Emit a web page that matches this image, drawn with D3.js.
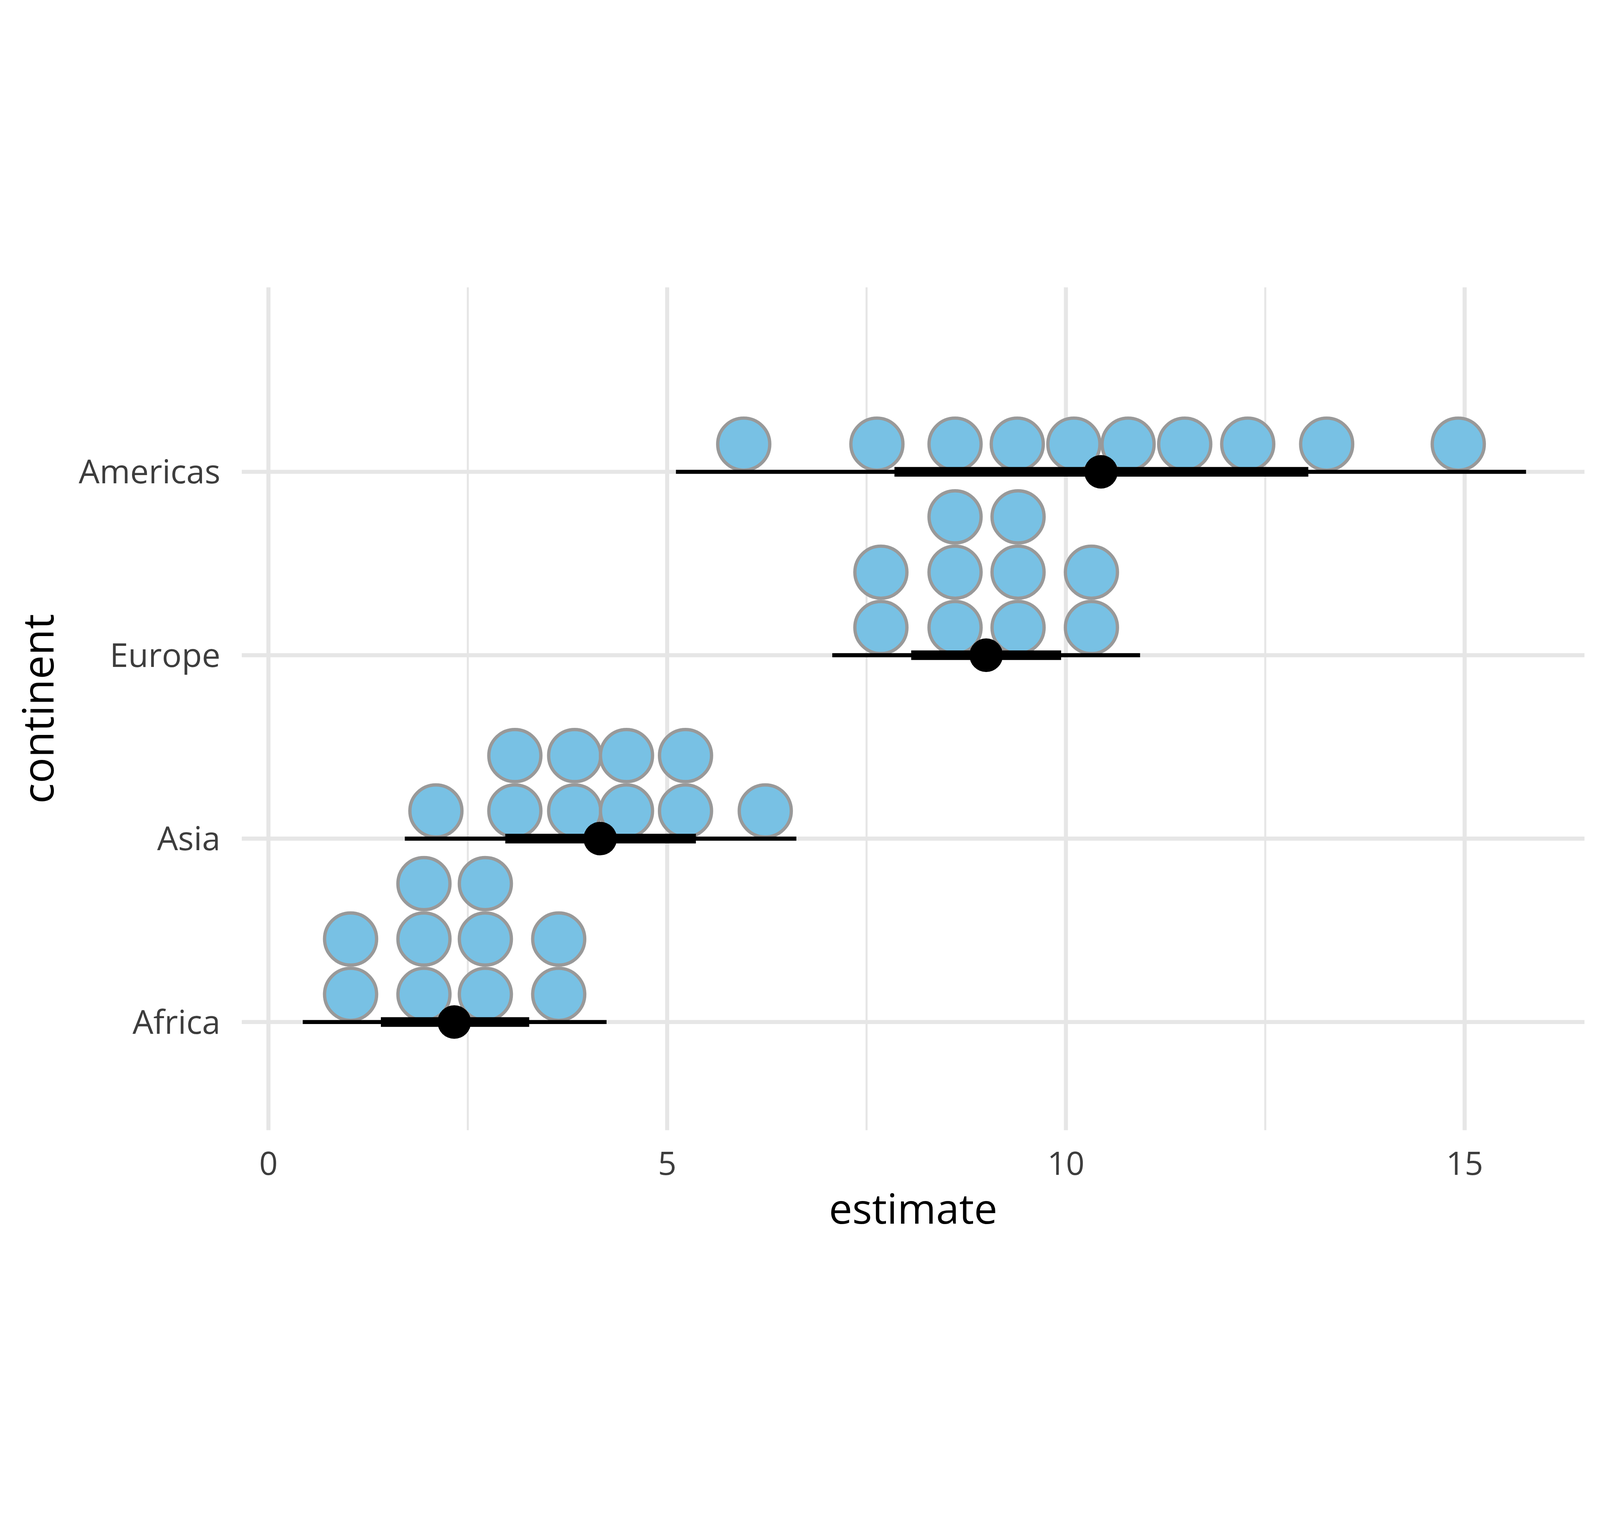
<!DOCTYPE html>
<html>
<head>
<meta charset="utf-8">
<script src="https://cdn.jsdelivr.net/npm/d3@7"></script>
<style>
  html, body { margin: 0; padding: 0; background: #ffffff; overflow: hidden; width: 100%; height: 100%; }
  svg { display: block; width: 100vw; height: 100vh; }
  text { font-family: "Open Sans", "Noto Sans", sans-serif; }
</style>
</head>
<body>
<script>
// ---------------- data ----------------
const categories = ["Africa", "Asia", "Europe", "Americas"];
const xTicks = [0, 5, 10, 15];
const xMinorTicks = [2.5, 7.5, 12.5];

// dot positions (one entry per dot; equal values stack)
const dotsAfrica   = [1.03, 1.03, 1.95, 1.95, 1.95, 2.72, 2.72, 2.72, 3.64, 3.64];
const dotsAsia     = [2.10, 3.09, 3.09, 3.84, 3.84, 4.49, 4.49, 5.23, 5.23, 6.23];
const dotsEurope   = [7.68, 7.68, 8.61, 8.61, 8.61, 9.40, 9.40, 9.40, 10.32, 10.32];
const dotsAmericas = [5.96, 7.63, 8.61, 9.39, 10.10, 10.78, 11.49, 12.28, 13.27, 14.92];

// point estimates and intervals (order follows categories)
const pointEstimate = [2.33, 4.16, 9.00, 10.44];
const outerLower    = [0.43, 1.71, 7.07, 5.11];
const outerUpper    = [4.24, 6.62, 10.93, 15.77];
const innerLower    = [1.41, 2.97, 8.06, 7.85];
const innerUpper    = [3.27, 5.36, 9.94, 13.04];

const xTitle = "estimate";
const yTitle = "continent";

// ---------------- layout ----------------
const W = 6300, H = 3893;
const panel = { left: 952, right: 6239, top: 84, bottom: 3402 };
const dotFill = "#78C1E4", dotStroke = "#999999";
const gridColor = "#E6E6E6";
const textColor = "#3D3D3D";

const svg = d3.select("body").append("svg")
  .attr("viewBox", `0 0 ${W} ${H}`)
  .attr("preserveAspectRatio", "xMidYMid meet");

svg.append("rect").attr("width", W).attr("height", H).attr("fill", "#ffffff");

const x = d3.scaleLinear().domain([0, 15]).range([1057, 5767]);
const y = d3.scalePoint().domain(categories).range([2976, 810]);

// ---------------- grid ----------------
const grid = svg.append("g");
grid.selectAll("line.minor").data(xMinorTicks).join("line")
  .attr("class", "minor")
  .attr("x1", d => x(d)).attr("x2", d => x(d))
  .attr("y1", panel.top).attr("y2", panel.bottom)
  .attr("stroke", gridColor).attr("stroke-width", 8);
grid.selectAll("line.majorx").data(xTicks).join("line")
  .attr("class", "majorx")
  .attr("x1", d => x(d)).attr("x2", d => x(d))
  .attr("y1", panel.top).attr("y2", panel.bottom)
  .attr("stroke", gridColor).attr("stroke-width", 16);
grid.selectAll("line.majory").data(categories).join("line")
  .attr("class", "majory")
  .attr("x1", panel.left).attr("x2", panel.right)
  .attr("y1", d => y(d)).attr("y2", d => y(d))
  .attr("stroke", gridColor).attr("stroke-width", 16);

// ---------------- dots ----------------
const dotSets = { Africa: dotsAfrica, Asia: dotsAsia, Europe: dotsEurope, Americas: dotsAmericas };
const dotDiam = x(0.694) - x(0);
const strokeW = 13;
const dotData = [];
categories.forEach(cat => {
  const counts = new Map();
  dotSets[cat].forEach(v => {
    const k = counts.get(v) || 0;
    counts.set(v, k + 1);
    dotData.push({ cat, v, k });
  });
});
svg.append("g").selectAll("circle").data(dotData).join("circle")
  .attr("cx", d => x(d.v))
  .attr("cy", d => y(d.cat) - dotDiam / 2 - d.k * dotDiam)
  .attr("r", dotDiam / 2 - strokeW / 2)
  .attr("fill", dotFill)
  .attr("stroke", dotStroke)
  .attr("stroke-width", strokeW);

// ---------------- intervals ----------------
const ints = categories.map((c, i) => ({
  cat: c, p: pointEstimate[i], lo: outerLower[i], hi: outerUpper[i], ilo: innerLower[i], ihi: innerUpper[i]
}));
const ig = svg.append("g");
ig.selectAll("line.outer").data(ints).join("line")
  .attr("x1", d => x(d.lo)).attr("x2", d => x(d.hi))
  .attr("y1", d => y(d.cat)).attr("y2", d => y(d.cat))
  .attr("stroke", "#000").attr("stroke-width", 16);
ig.selectAll("line.inner").data(ints).join("line")
  .attr("x1", d => x(d.ilo)).attr("x2", d => x(d.ihi))
  .attr("y1", d => y(d.cat)).attr("y2", d => y(d.cat))
  .attr("stroke", "#000").attr("stroke-width", 38);
ig.selectAll("circle").data(ints).join("circle")
  .attr("cx", d => x(d.p)).attr("cy", d => y(d.cat))
  .attr("r", 66).attr("fill", "#000");

// ---------------- axes text ----------------
svg.append("g").selectAll("text").data(xTicks).join("text")
  .attr("x", d => x(d)).attr("y", 3578)
  .attr("text-anchor", "middle")
  .attr("font-size", 128).attr("fill", textColor)
  .text(d => d3.format("d")(d));

svg.append("g").selectAll("text").data(categories).join("text")
  .attr("x", 868).attr("y", d => y(d) + 46)
  .attr("text-anchor", "end")
  .attr("font-size", 130).attr("fill", textColor)
  .text(d => d);

svg.append("text")
  .attr("x", (panel.left + panel.right) / 2).attr("y", 3770)
  .attr("text-anchor", "middle")
  .attr("font-size", 164).attr("fill", "#000")
  .text(xTitle);

svg.append("text")
  .attr("transform", `translate(210, ${(panel.top + panel.bottom) / 2}) rotate(-90)`)
  .attr("text-anchor", "middle")
  .attr("font-size", 168).attr("fill", "#000")
  .text(yTitle);
</script>
</body>
</html>
